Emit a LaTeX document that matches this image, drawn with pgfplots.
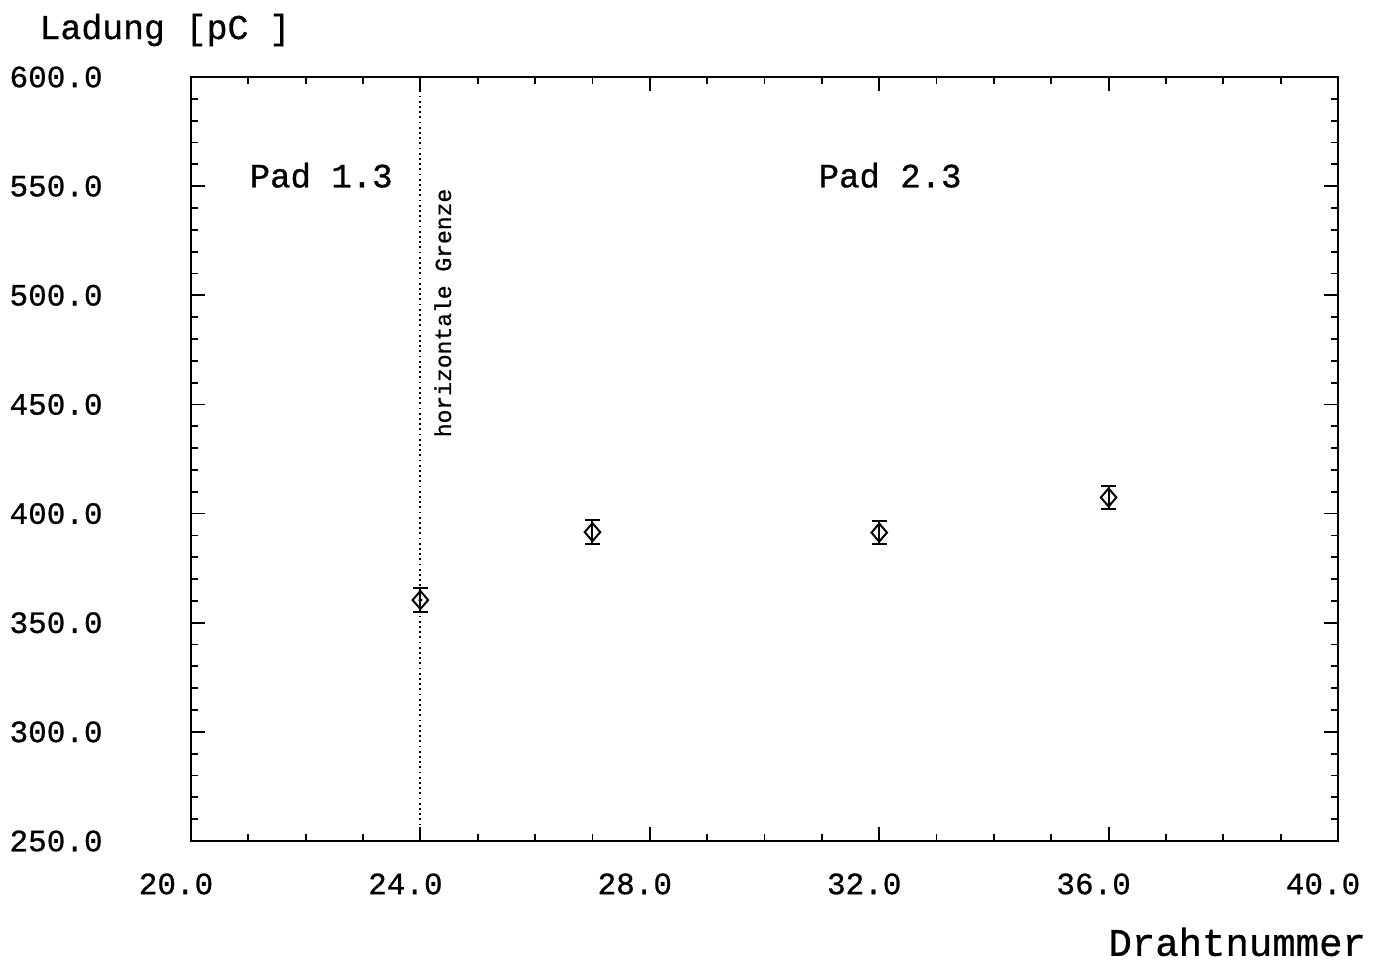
\documentclass[border=0pt]{standalone}
\usepackage{fontspec}
\setmainfont{Liberation Mono}
\newfontfamily\cour{Liberation Mono}[FakeBold=0.8]
\usepackage{pgfplots}
\pgfplotsset{compat=1.18}
\begin{document}
\begin{tikzpicture}
\begin{axis}[
  scale only axis,
  width=573.5pt, height=382pt,
  xmin=20, xmax=40, ymin=250, ymax=600,
  xtick={20,24,...,40}, ytick={250,300,...,600},
  minor x tick num=3, minor y tick num=4,
  tick align=inside, major tick length=7pt, minor tick length=3.5pt,
  tick style={line width=0.9pt, black},
  axis line style={line width=1pt},
  xtick pos=both, ytick pos=both,
  /pgf/number format/assume math mode=true,
  /pgf/number format/.cd, fixed, fixed zerofill, precision=1, use period, 1000 sep={},
  /pgfplots/.cd,
  ticklabel style={font=\cour\fontsize{15.5}{18}\selectfont},
  yticklabel style={anchor=east, inner sep=0pt, xshift=-44pt},
  xticklabel style={anchor=north, inner sep=0pt, yshift=-16pt, xshift=-7.5pt},
  clip=false,
]
\path (rel axis cs:-0.1665,-0.1518) rectangle (rel axis cs:1.0392,1.1008);
\draw[line width=1.1pt, dash pattern=on 0.9pt off 1.7pt] (axis cs:24,250) -- (axis cs:24,600);
\addplot[only marks, mark=diamond, mark size=4.5pt, line width=1pt,
  mark options={line width=1pt, xscale=1.15},
  error bars/.cd, y dir=both, y explicit,
  error bar style={line width=1pt},
  error mark options={rotate=90, mark size=3.7pt, line width=1pt}]
  coordinates {
  (24,360.4) +- (0,5.4)
  (27,391.5) +- (0,5.5)
  (32,391.3) +- (0,5.4)
  (36,407.4) +- (0,5.4)
  };
\addplot[only marks, mark=*, mark size=0.8pt] coordinates {(24,360.4)};
\node[font=\cour\fontsize{17}{20}\selectfont] at (axis cs:22.27,555) {Pad 1.3};
\node[font=\cour\fontsize{17}{20}\selectfont] at (axis cs:32.19,555) {Pad 2.3};
\node[font=\cour\fontsize{11.5}{14}\selectfont, rotate=90] at (axis cs:24.39,491.9) {horizontale Grenze};
\node[font=\cour\fontsize{17.4}{20}\selectfont] at (rel axis cs:-0.0227,1.0615) {Ladung [pC ]};
\node[font=\cour\fontsize{19.5}{22}\selectfont, anchor=east] at (rel axis cs:1.0305,-0.132) {Drahtnummer};
\end{axis}
\end{tikzpicture}
\end{document}
